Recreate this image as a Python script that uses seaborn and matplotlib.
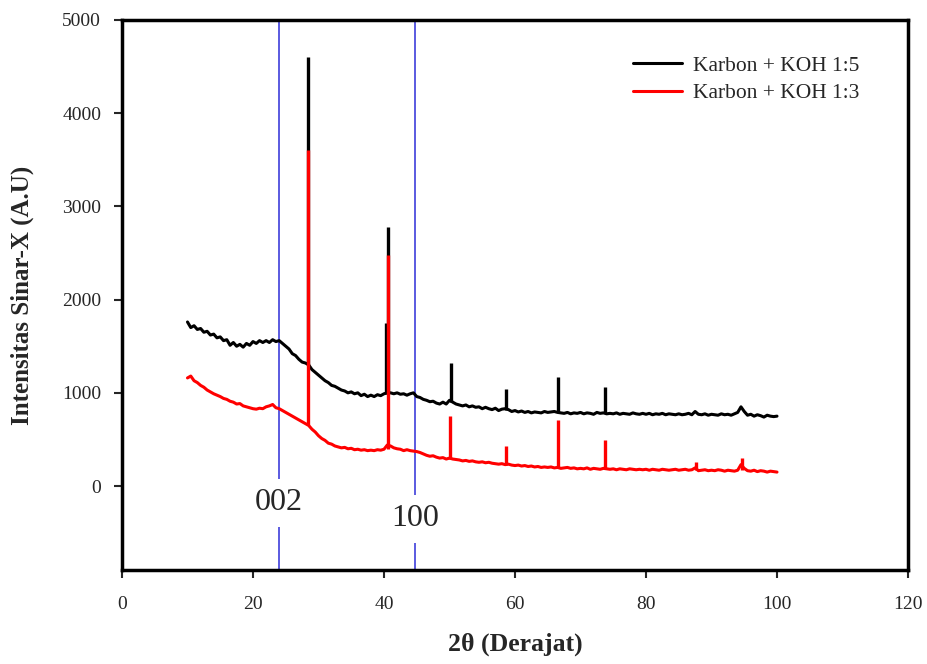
import numpy as np
import pandas as pd
import seaborn as sns
import matplotlib.pyplot as plt

# 2theta grid of the baseline readings (0.5 degree steps, 10..100)
two_theta = np.arange(10.0, 100.01, 0.5)

# Karbon + KOH 1:5 baseline
koh_15 = [
    1760, 1700, 1720, 1680, 1690, 1650, 1660, 1620, 1630, 1590,
    1600, 1560, 1570, 1510, 1540, 1500, 1520, 1490, 1530, 1510,
    1550, 1530, 1560, 1540, 1560, 1540, 1570, 1550, 1560, 1530,
    1500, 1470, 1420, 1400, 1360, 1330, 1320, 1300, 1250, 1220,
    1190, 1160, 1130, 1110, 1080, 1070, 1050, 1030, 1020, 1000,
    1010, 990, 1000, 970, 985, 960, 975, 960, 980, 970,
    990, 1000, 1000, 990, 1000, 985, 990, 975, 990, 1000,
    960, 950, 930, 920, 905, 910, 890, 880, 900, 880,
    920, 900, 880, 870, 860, 870, 850, 860, 845, 850,
    830, 845, 830, 820, 835, 810, 825, 830, 820, 800,
    810, 795, 805, 790, 800, 785, 795, 790, 785, 800,
    790, 795, 800, 790, 785, 780, 790, 775, 785, 780,
    790, 775, 785, 780, 770, 790, 780, 785, 775, 780,
    775, 785, 770, 780, 775, 770, 785, 775, 770, 780,
    770, 780, 765, 775, 770, 780, 765, 775, 770, 765,
    775, 765, 770, 780, 765, 800, 770, 765, 775, 760,
    770, 765, 760, 775, 765, 770, 760, 775, 790, 850,
    800, 760, 770, 750, 765, 755, 740, 760, 750, 745,
    750,
]

# Karbon + KOH 1:3 baseline
koh_13 = [
    1160, 1180, 1130, 1110, 1080, 1060, 1030, 1010, 990, 975,
    960, 940, 930, 910, 900, 880, 885, 860, 850, 840,
    830, 825, 835, 830, 850, 860, 875, 840, 830, 810,
    790, 770, 750, 730, 710, 690, 670, 650, 610, 580,
    540, 510, 490, 460, 450, 430, 420, 410, 415, 400,
    405, 390, 395, 385, 390, 380, 385, 380, 390, 385,
    395, 440, 430, 410, 400, 395, 380, 390, 380, 375,
    370, 360, 345, 330, 320, 325, 310, 300, 305, 290,
    300, 290, 285, 280, 270, 275, 265, 270, 260, 255,
    260, 250, 255, 245, 240, 235, 240, 230, 235, 225,
    220, 225, 215, 220, 210, 215, 205, 210, 200, 205,
    200, 205, 195, 200, 190, 195, 200, 190, 195, 185,
    190, 185, 195, 180, 190, 185, 180, 190, 185, 180,
    185, 175, 185, 180, 175, 185, 180, 175, 180, 175,
    180, 170, 180, 175, 170, 180, 175, 170, 175, 180,
    170, 175, 180, 170, 175, 195, 165, 170, 175, 165,
    170, 165, 175, 170, 160, 170, 165, 160, 170, 230,
    190, 165, 160, 170, 155, 165, 160, 150, 160, 155,
    150,
]

# sharp reflections: position, foot, top
peak_pos_15 = [28.4, 40.3, 40.6, 50.2, 58.6, 66.5, 73.7]
peak_foot_15 = [1300, 990, 1000, 900, 820, 790, 780]
peak_top_15 = [4600, 1750, 2780, 1320, 1040, 1170, 1060]

peak_pos_13 = [28.4, 40.55, 50.1, 58.6, 66.5, 73.7, 87.6, 94.6]
peak_foot_13 = [650, 400, 295, 230, 195, 185, 175, 170]
peak_top_13 = [3600, 2480, 750, 430, 710, 490, 260, 300]

# reference planes
plane_pos = [24.0, 44.7]
plane_labels = ["002", "100"]
plane_label_y = [-180, -350]

labels = ["Karbon + KOH 1:5", "Karbon + KOH 1:3"]
colors = ["black", "#ff0000"]

df = pd.concat([
    pd.DataFrame({"two_theta": two_theta, "intensity": koh_15, "sample": labels[0]}),
    pd.DataFrame({"two_theta": two_theta, "intensity": koh_13, "sample": labels[1]}),
])

sns.set_style("ticks")
plt.rcParams['font.family'] = ['Liberation Serif', 'DejaVu Serif']

fig, ax = plt.subplots(figsize=(9.27, 6.64), dpi=100)
fig.subplots_adjust(left=0.1316, right=0.9795, top=0.970, bottom=0.1416)

sns.lineplot(data=df, x="two_theta", y="intensity", hue="sample", palette=colors,
             estimator=None, linewidth=2.2, ax=ax)
ax.vlines(peak_pos_15, peak_foot_15, peak_top_15, color=colors[0], linewidth=2.4, zorder=2.5)
ax.vlines(peak_pos_13, peak_foot_13, peak_top_13, color=colors[1], linewidth=2.4, zorder=2.6)

for x, lab, y in zip(plane_pos, plane_labels, plane_label_y):
    ax.axvline(x, color="#5a5ae0", linewidth=1.4, zorder=1)
    ax.text(x, y, lab, fontsize=23, ha="center", va="center", zorder=3,
            bbox=dict(boxstyle="square,pad=0.3", facecolor="white", edgecolor="none"))

ax.set_xlim(0, 120)
ax.set_ylim(-900, 5000)
ax.set_xticks(range(0, 121, 20))
ax.set_yticks(range(0, 5001, 1000))
ax.tick_params(labelsize=14, length=6, width=1.5, direction="out")
ax.tick_params(axis="y", pad=9)
ax.tick_params(axis="x", pad=13)
for s in ax.spines.values():
    s.set_visible(True)
    s.set_linewidth(2.5)
    s.set_color("black")

ax.set_xlabel("2θ (Derajat)", fontsize=18.5, fontweight="bold", labelpad=14)
ax.set_ylabel("Intensitas Sinar-X (A.U)", fontsize=18, fontweight="bold", labelpad=20)

ax.legend(loc="upper left", bbox_to_anchor=(0.65, 0.935), frameon=False, fontsize=15.5,
          handlelength=2.3, handletextpad=0.5, labelspacing=0.35, borderaxespad=0, borderpad=0)

plt.savefig("out.png", dpi=100)
